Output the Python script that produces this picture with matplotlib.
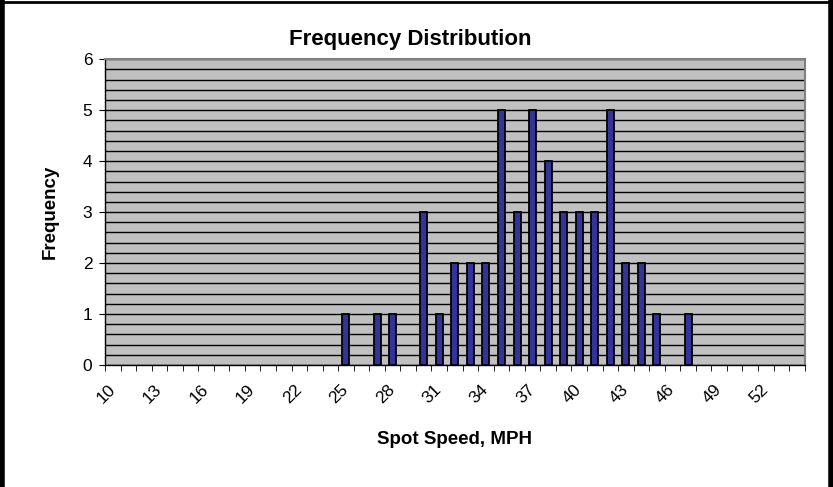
import numpy as np
import matplotlib
matplotlib.use('Agg')
import matplotlib.pyplot as plt
from matplotlib.lines import Line2D

plt.rcParams['font.family'] = ['Liberation Sans', 'DejaVu Sans']

# Datos
speeds = list(range(10, 55))
freq_map = {25: 1, 27: 1, 28: 1, 30: 3, 31: 1, 32: 2, 33: 2, 34: 2, 35: 5,
            36: 3, 37: 5, 38: 4, 39: 3, 40: 3, 41: 3, 42: 5, 43: 2, 44: 2,
            45: 1, 47: 1}
frequency = [freq_map.get(s, 0) for s in speeds]
tick_labels = [str(s) for s in speeds[::3]]

fig = plt.figure(figsize=(8.33, 4.87), dpi=100)
ax = fig.add_axes([0.126, 0.2505, 0.84, 0.628])
ax.set_facecolor('#C0C0C0')

x = np.arange(len(speeds))
# solo barras con valor distinto de cero
xs = [i for i, f in zip(x, frequency) if f > 0]
fs = [f for f in frequency if f > 0]
ax.bar(xs, fs, width=0.45, color='#333399', edgecolor='black',
       linewidth=1.3, zorder=3)

# Rejilla
ax.set_ylim(0, 6)
ax.set_xlim(-0.5, len(speeds) - 0.5)
ax.set_yticks(range(0, 7))
ax.set_yticks(np.arange(0, 6.01, 0.2), minor=True)
ax.grid(axis='y', which='both', color='black', linewidth=1.0, zorder=1)
ax.tick_params(axis='y', which='minor', length=0)
ax.tick_params(axis='y', which='major', length=4, labelsize=12.5,
               direction='out', pad=5)

# Ticks del eje x en los bordes de categoria
ax.set_xticks(np.arange(-0.5, len(speeds), 1), minor=True)
ax.tick_params(axis='x', which='minor', length=4)
ax.set_xticks(x[::3])
ax.set_xticklabels(tick_labels, rotation=45, fontsize=12.5,
                   ha='right', va='center', rotation_mode='anchor')
ax.tick_params(axis='x', which='major', length=0, pad=16)

for side in ['top', 'right']:
    ax.spines[side].set_color('#808080')
    ax.spines[side].set_linewidth(1.5)
ax.spines['left'].set_linewidth(1.0)
ax.spines['bottom'].set_linewidth(1.0)

ax.set_title('Frequency Distribution', fontsize=16, fontweight='bold',
             pad=10, x=0.436)
ax.set_ylabel('Frequency', fontsize=13.5, fontweight='bold', labelpad=17)
ax.set_xlabel('Spot Speed, MPH', fontsize=13.5, fontweight='bold', labelpad=18)

# Marco exterior
fig.add_artist(Line2D([0.002, 0.002], [0, 1], color='black', linewidth=4,
                      transform=fig.transFigure))
fig.add_artist(Line2D([0, 1], [0.995, 0.995], color='black', linewidth=2,
                      transform=fig.transFigure))
fig.add_artist(Line2D([0.997, 0.997], [0, 1], color='black', linewidth=4,
                      transform=fig.transFigure))

fig.savefig('out.png', dpi=100)
